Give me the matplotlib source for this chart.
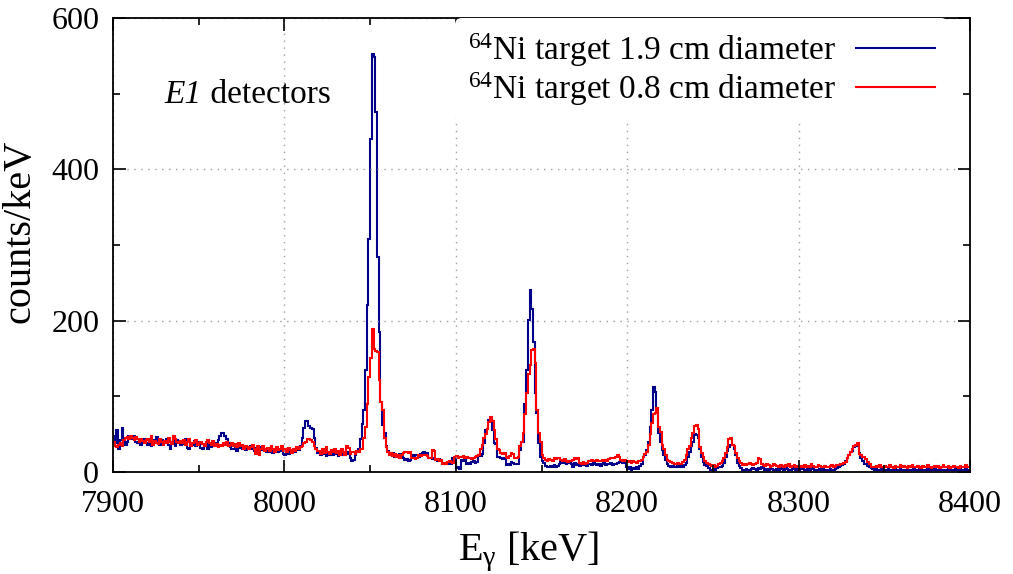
import numpy as np
import matplotlib

matplotlib.use('Agg')

from matplotlib import pyplot as plt
from matplotlib.lines import Line2D

# spectrum, 1 keV bins starting at 7900 keV
e_start = 7900
e_stop = 8400

# 64Ni target 1.9 cm diameter
blue_counts = [
    48, 38, 55, 30, 42, 58, 45, 36, 40, 48, 46, 44, 48, 40, 38, 42, 36, 40, 44, 38,
    36, 40, 34, 42, 38, 46, 40, 36, 42, 39, 38, 44, 36, 30, 40, 46, 34, 42, 38, 36,
    40, 37, 44, 32, 30, 38, 36, 41, 34, 39, 36, 32, 30, 34, 38, 31, 36, 33, 37, 35,
    38, 42, 47, 52, 51, 48, 44, 38, 33, 30, 31, 34, 28, 36, 32, 30, 35, 29, 33, 31,
    34, 30, 28, 32, 26, 30, 33, 29, 31, 27, 30, 27, 33, 25, 29, 31, 26, 30, 28, 24,
    22, 26, 24, 28, 26, 30, 27, 31, 29, 35, 45, 58, 68, 67, 61, 58, 57, 45, 32, 25,
    25, 23, 27, 24, 21, 26, 23, 25, 22, 26, 24, 21, 25, 23, 27, 22, 26, 24, 18, 15,
    16, 22, 26, 31, 44, 64, 82, 135, 221, 308, 440, 552, 548, 476, 284, 185, 93, 62, 52, 35,
    28, 24, 22, 25, 20, 23, 21, 24, 22, 19, 16, 17, 15, 16, 22, 21, 23, 22, 20, 24,
    25, 26, 24, 25, 18, 19, 17, 18, 16, 15, 17, 16, 11, 12, 10, 11, 12, 11, 18, 19,
    5, 6, 4, 16, 15, 17, 11, 12, 10, 13, 14, 12, 13, 22, 21, 24, 38, 55, 57, 69,
    70, 55, 38, 37, 20, 20, 18, 17, 18, 9, 10, 9, 13, 12, 11, 10, 11, 29, 40, 40,
    90, 135, 201, 240, 216, 172, 104, 78, 38, 20, 14, 12, 8, 7, 6, 8, 7, 9, 7, 8,
    10, 14, 12, 15, 11, 14, 12, 10, 6, 12, 9, 10, 8, 11, 9, 10, 8, 11, 10, 9,
    12, 10, 9, 11, 8, 10, 12, 9, 11, 10, 12, 9, 11, 10, 12, 13, 14, 12, 13, 7,
    4, 6, 3, 5, 4, 6, 4, 8, 10, 20, 22, 29, 40, 60, 82, 112, 106, 78, 51, 40,
    29, 22, 16, 10, 8, 7, 8, 6, 7, 8, 7, 8, 7, 9, 12, 20, 27, 35, 40, 50,
    49, 45, 31, 20, 13, 9, 8, 5, 3, 3, 4, 3, 5, 6, 7, 8, 12, 20, 28, 33,
    36, 36, 30, 22, 12, 8, 5, 3, 3, 4, 3, 3, 4, 5, 4, 3, 5, 4, 6, 5,
    3, 4, 3, 5, 4, 3, 2, 4, 3, 5, 4, 3, 5, 4, 2, 3, 4, 5, 3, 4,
    3, 5, 4, 3, 2, 4, 3, 5, 4, 3, 2, 3, 4, 3, 5, 3, 2, 3, 4, 3,
    2, 4, 5, 6, 8, 9, 11, 14, 18, 22, 26, 28, 33, 36, 34, 25, 18, 15, 11, 10,
    8, 7, 5, 4, 3, 4, 2, 3, 4, 2, 3, 2, 4, 3, 2, 3, 4, 2, 3, 4,
    2, 3, 2, 4, 3, 2, 3, 4, 2, 3, 4, 2, 3, 2, 3, 4, 2, 3, 2, 4,
    3, 2, 4, 3, 2, 3, 2, 4, 3, 2, 3, 4, 2, 3, 5, 3, 2, 4, 3, 2,
]

# 64Ni target 0.8 cm diameter
red_counts = [
    40, 35, 33, 36, 38, 35, 42, 45, 46, 44, 47, 45, 42, 46, 43, 40, 44, 41, 38, 42,
    44, 39, 48, 36, 41, 38, 37, 43, 40, 36, 41, 38, 45, 40, 37, 48, 44, 40, 38, 41,
    38, 42, 36, 40, 44, 35, 38, 39, 42, 36, 38, 40, 37, 35, 39, 42, 38, 36, 41, 34,
    37, 33, 36, 35, 38, 36, 39, 34, 36, 38, 35, 37, 33, 38, 34, 36, 31, 35, 33, 30,
    33, 36, 30, 24, 34, 22, 31, 35, 28, 30, 32, 28, 34, 30, 27, 33, 29, 31, 35, 28,
    30, 27, 32, 29, 25, 31, 28, 33, 30, 33, 35, 38, 40, 43, 44, 42, 40, 34, 30, 28,
    28, 24, 30, 25, 33, 27, 24, 29, 26, 31, 25, 28, 23, 30, 26, 22, 35, 32, 24, 27,
    26, 24, 28, 27, 30, 30, 45, 60, 90, 126, 150, 189, 162, 160, 158, 121, 93, 82, 45, 33,
    26, 22, 25, 21, 24, 20, 23, 19, 22, 25, 26, 27, 25, 26, 18, 19, 17, 18, 22, 21,
    23, 22, 22, 21, 18, 18, 29, 28, 16, 17, 15, 16, 11, 12, 11, 13, 14, 13, 12, 20,
    21, 19, 20, 20, 21, 19, 20, 18, 19, 17, 18, 20, 21, 22, 30, 36, 45, 50, 57, 66,
    73, 68, 55, 44, 30, 29, 25, 24, 25, 20, 19, 21, 25, 24, 18, 18, 20, 35, 40, 52,
    77, 104, 130, 141, 161, 162, 144, 82, 51, 40, 22, 18, 16, 15, 17, 16, 14, 18, 17, 19,
    18, 16, 15, 17, 14, 13, 15, 14, 16, 18, 17, 19, 12, 11, 13, 10, 12, 14, 15, 16,
    14, 15, 16, 14, 15, 16, 14, 16, 15, 17, 18, 19, 18, 20, 22, 20, 16, 15, 16, 14,
    13, 15, 12, 14, 13, 12, 14, 15, 16, 20, 24, 26, 36, 50, 65, 77, 78, 84, 60, 53,
    36, 30, 22, 16, 14, 13, 12, 11, 10, 12, 10, 11, 13, 16, 22, 30, 35, 45, 51, 61,
    62, 57, 33, 25, 20, 14, 12, 10, 9, 8, 9, 7, 8, 10, 12, 15, 18, 25, 33, 44,
    45, 36, 34, 25, 18, 14, 12, 9, 10, 9, 11, 12, 10, 9, 10, 12, 18, 17, 10, 9,
    8, 10, 9, 7, 8, 10, 9, 8, 7, 9, 8, 7, 9, 8, 10, 7, 8, 9, 7, 8,
    6, 8, 7, 9, 6, 8, 7, 10, 8, 6, 7, 9, 8, 6, 7, 8, 7, 6, 8, 9,
    7, 8, 9, 9, 10, 11, 12, 13, 18, 22, 27, 31, 34, 36, 38, 24, 22, 20, 20, 17,
    13, 10, 7, 6, 7, 8, 6, 9, 7, 6, 8, 7, 6, 9, 7, 5, 8, 6, 7, 9,
    6, 8, 7, 5, 8, 6, 9, 7, 6, 8, 7, 5, 8, 6, 7, 9, 6, 5, 7, 8,
    6, 8, 5, 7, 9, 6, 7, 8, 5, 7, 8, 6, 7, 5, 8, 6, 7, 9, 6, 7,
]

labels = [r'$^{64}$Ni target 1.9 cm diameter', r'$^{64}$Ni target 0.8 cm diameter']
colors = ['#00008b', '#ff0000']

plt.rcParams['font.family'] = ['Liberation Serif', 'DejaVu Serif']
plt.rcParams['mathtext.fontset'] = 'custom'
plt.rcParams['mathtext.rm'] = 'Liberation Serif'
plt.rcParams['mathtext.it'] = 'Liberation Serif:italic'

edges = np.arange(e_start, e_stop + 1)

fig = plt.figure(figsize=(10.13, 5.74), dpi=100)
ax = fig.add_axes([0.1116, 0.1777, 0.846, 0.791])

ax.stairs(blue_counts, edges, color=colors[0], lw=1.5, baseline=None)
ax.stairs(red_counts, edges, color=colors[1], lw=1.5, baseline=None)

ax.set_xlim(e_start, e_stop)
ax.set_ylim(0, 600)
ax.set_xticks(np.arange(7900, 8401, 100))
ax.set_xticks(np.arange(7950, 8400, 100), minor=True)
ax.set_yticks([0, 200, 400, 600])
ax.set_yticks([100, 300, 500], minor=True)
ax.tick_params(which='both', direction='in', top=True, right=True, labelsize=23, width=1.2)
ax.tick_params(which='major', length=9)
ax.tick_params(which='minor', length=5)
ax.tick_params(axis='x', which='major', pad=13)
ax.tick_params(axis='y', which='major', pad=10)
ax.grid(True, which='major', color='#a0a0a0', linestyle=(0, (1, 4)), lw=1.0)
for s in ax.spines.values():
    s.set_linewidth(1.3)

ax.set_xlabel(r'E$_{\mathrm{\gamma}}$ [keV]', fontsize=29)
ax.set_ylabel('counts/keV', fontsize=29)
ax.xaxis.set_label_coords(0.4854, -0.127)
ax.yaxis.set_label_coords(-0.087, 0.531)

t = ax.text(7930, 498, 'E1', fontsize=24, fontstyle='italic', va='center', ha='left')
ax.annotate(' detectors', xy=(1, 0.5), xycoords=t, fontsize=24, va='center', ha='left')

handles = [Line2D([], [], color=c, lw=1.5) for c in colors]
leg = ax.legend(handles, labels, loc='upper right', bbox_to_anchor=(0.9743, 1.0),
                fontsize=24, markerfirst=False, frameon=True, framealpha=1,
                facecolor='white', edgecolor='none', handlelength=2.35,
                labelspacing=0.05, borderaxespad=0, handletextpad=0.6)

plt.savefig('out.png', dpi=100)
